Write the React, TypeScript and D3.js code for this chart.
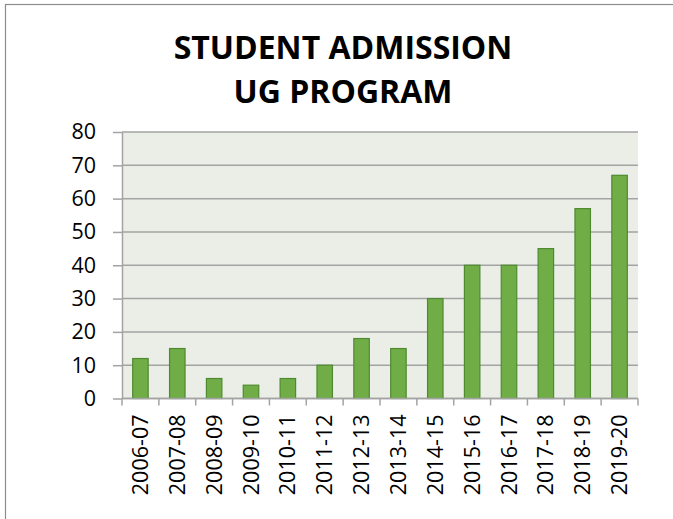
import * as d3 from "d3";
import { useEffect, useRef } from "react";

const years = [
  "2006-07", "2007-08", "2008-09", "2009-10", "2010-11", "2011-12", "2012-13",
  "2013-14", "2014-15", "2015-16", "2016-17", "2017-18", "2018-19", "2019-20",
];
const admissions = [12, 15, 6, 4, 6, 10, 18, 15, 30, 40, 40, 45, 57, 67];
const yTicks = [0, 10, 20, 30, 40, 50, 60, 70, 80];
const titleLines = ["STUDENT ADMISSION", "UG PROGRAM"];

const App = () => {
  const svgRef = useRef<SVGSVGElement | null>(null);

  useEffect(() => {
    const svg = d3.select(svgRef.current);
    svg.selectAll("*").remove();

    const width = 673;
    const height = 519;
    const margin = { top: 132, right: 35, bottom: 120, left: 122 };

    // chart frame (runs off the page on right/bottom)
    svg
      .append("rect")
      .attr("x", 5.5)
      .attr("y", 4.5)
      .attr("width", width)
      .attr("height", height)
      .attr("fill", "white")
      .attr("stroke", "#8c8c8c")
      .attr("stroke-width", 1.2);

    const x = d3
      .scaleBand()
      .domain(years)
      .range([margin.left, width - margin.right])
      .paddingInner(0.58)
      .paddingOuter(0.29);

    const y = d3
      .scaleLinear()
      .domain([0, 80])
      .range([height - margin.bottom - 0.5, margin.top]);

    // plot area
    svg
      .append("rect")
      .attr("x", margin.left)
      .attr("y", y(80))
      .attr("width", width - margin.right - margin.left)
      .attr("height", y(0) - y(80))
      .attr("fill", "#eaeee7");

    // gridlines
    svg
      .append("g")
      .selectAll("line")
      .data(yTicks)
      .join("line")
      .attr("x1", margin.left)
      .attr("x2", width - margin.right)
      .attr("y1", (d) => y(d))
      .attr("y2", (d) => y(d))
      .attr("stroke", "#a3a3a3")
      .attr("stroke-width", 1.5);

    // Y axis
    const yAxis = svg
      .append("g")
      .attr("transform", `translate(${margin.left},0)`)
      .call(d3.axisLeft(y).tickValues(yTicks).tickSize(9).tickPadding(17).tickSizeOuter(0));
    yAxis.select(".domain").attr("stroke", "#a3a3a3").attr("stroke-width", 1.5);
    yAxis.selectAll(".tick line").attr("stroke", "#a3a3a3").attr("stroke-width", 1.5);
    yAxis
      .selectAll("text")
      .attr("fill", "#000")
      .style("font-family", "'Open Sans', sans-serif")
      .style("font-size", "21.5px");

    // bars
    svg
      .append("g")
      .selectAll("rect")
      .data(admissions)
      .join("rect")
      .attr("x", (_, i) => x(years[i])!)
      .attr("y", (d) => y(d))
      .attr("width", x.bandwidth())
      .attr("height", (d) => y(0) - y(d))
      .attr("fill", "#70ad47")
      .attr("stroke", "#4f8a30")
      .attr("stroke-width", 1.2);

    // X axis with ticks at the category boundaries
    const step = x.step();
    const bounds = d3.range(years.length + 1).map((i) => margin.left + i * step);
    const xAxis = svg.append("g");
    xAxis
      .append("line")
      .attr("x1", margin.left)
      .attr("x2", width - margin.right)
      .attr("y1", y(0))
      .attr("y2", y(0))
      .attr("stroke", "#a3a3a3")
      .attr("stroke-width", 1.5);
    xAxis
      .selectAll("line.tk")
      .data(bounds)
      .join("line")
      .attr("class", "tk")
      .attr("x1", (d) => d)
      .attr("x2", (d) => d)
      .attr("y1", y(0))
      .attr("y2", y(0) + 7)
      .attr("stroke", "#a3a3a3")
      .attr("stroke-width", 1.5);
    xAxis
      .selectAll("text")
      .data(years)
      .join("text")
      .attr("transform", (d) => `translate(${x(d)! + x.bandwidth() / 2 + 7.5},${y(0) + 16}) rotate(-90)`)
      .attr("text-anchor", "end")
      .style("font-family", "'Open Sans', sans-serif")
      .style("font-size", "21.5px")
      .text((d) => d);

    // title
    svg
      .append("g")
      .selectAll("text")
      .data(titleLines)
      .join("text")
      .attr("x", 343)
      .attr("y", (_, i) => 59 + i * 44)
      .attr("text-anchor", "middle")
      .style("font-family", "'Open Sans', sans-serif")
      .style("font-weight", "bold")
      .style("font-size", "32px")
      .text((d) => d);
  }, []);

  return (
    <div style={{ position: "absolute", left: 0, top: 0 }}>
      <svg ref={svgRef} width={673} height={519} style={{ display: "block" }}></svg>
    </div>
  );
};

export default App;
